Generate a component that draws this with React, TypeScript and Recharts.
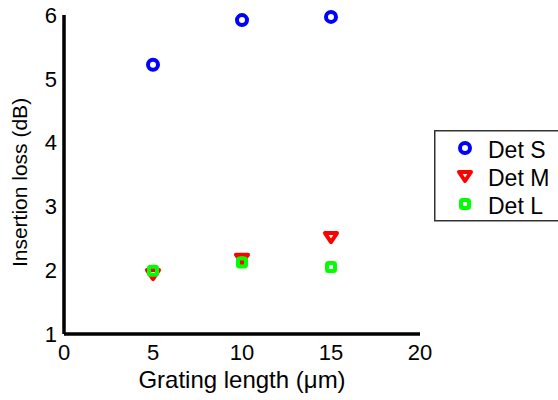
import { Scatter, ScatterChart, XAxis, YAxis } from "recharts";

const lengths = [5, 10, 15];
const detS = [5.22, 5.92, 5.97];
const detM = [1.94, 2.18, 2.52];
const detL = [1.99, 2.12, 2.05];
const xTicks = [0, 5, 10, 15, 20];
const yTicks = [1, 2, 3, 4, 5, 6];

const BLUE = "#0000ff";
const RED = "#ff0000";
const GREEN = "#00ff00";
const FONT = "'Liberation Sans', Arial, sans-serif";

const toPoints = (ys: number[]) => lengths.map((x, i) => ({ x, y: ys[i] }));

function Circle({ cx, cy }: any) {
  return <circle cx={cx} cy={cy} r={5} fill="none" stroke={BLUE} strokeWidth={4} />;
}

function Tri({ cx, cy }: any) {
  const d = `M${cx - 6},${cy - 4} L${cx + 6},${cy - 4} L${cx},${cy + 5} Z`;
  return <path d={d} fill="none" stroke={RED} strokeWidth={4} strokeLinejoin="round" />;
}

function Sq({ cx, cy }: any) {
  return <rect x={cx - 4} y={cy - 4} width={8} height={8} rx={1.5} fill="none" stroke={GREEN} strokeWidth={4} />;
}

const legendItems = [
  { name: "Det S", Shape: Circle },
  { name: "Det M", Shape: Tri },
  { name: "Det L", Shape: Sq },
];

// legend drawn as an overlay so it doesn't eat into the plot height
function LegendBox() {
  return (
    <svg width={124} height={92} style={{ display: "block" }}>
      <rect x={0.75} y={0.75} width={140} height={90} fill="#fff" stroke="#333" strokeWidth={1.5} />
      {legendItems.map(({ name, Shape }, i) => (
        <g key={name}>
          <Shape cx={31} cy={18 + i * 28} />
          <text x={54} y={28 + i * 28} fontSize={23} fontFamily={FONT} fill="#000">
            {name}
          </text>
        </g>
      ))}
    </svg>
  );
}

export default function App() {
  const tick = { fill: "#000", fontSize: 22, fontFamily: FONT };
  return (
    <div style={{ position: "absolute", left: 0, top: 0, width: 558, height: 400, background: "#fff" }}>
      <ScatterChart width={558} height={400} margin={{ top: 15, right: 138, bottom: 6, left: 20 }}>
        <XAxis
          type="number"
          dataKey="x"
          domain={[0, 20]}
          ticks={xTicks}
          axisLine={{ stroke: "#000", strokeWidth: 3.5 }}
          tickLine={false}
          tick={tick}
          tickMargin={4}
          height={60}
          label={{ value: "Grating length (μm)", position: "insideBottom", offset: 6, fill: "#000", fontSize: 24, fontFamily: FONT }}
        />
        <YAxis
          type="number"
          dataKey="y"
          domain={[1, 6]}
          ticks={yTicks}
          axisLine={{ stroke: "#000", strokeWidth: 3.5 }}
          tickLine={false}
          tick={tick}
          tickMargin={1}
          width={44}
          label={{ value: "Insertion loss (dB)", angle: -90, position: "insideLeft", offset: 0, dx: 0, dy: 8, fill: "#000", fontSize: 21, fontFamily: FONT, style: { textAnchor: "middle" } }}
        />
        <Scatter name="Det S" data={toPoints(detS)} shape={Circle} isAnimationActive={false} />
        <Scatter name="Det M" data={toPoints(detM)} shape={Tri} isAnimationActive={false} />
        <Scatter name="Det L" data={toPoints(detL)} shape={Sq} isAnimationActive={false} />
      </ScatterChart>
      <div style={{ position: "absolute", left: 434, top: 130 }}>
        <LegendBox />
      </div>
    </div>
  );
}
